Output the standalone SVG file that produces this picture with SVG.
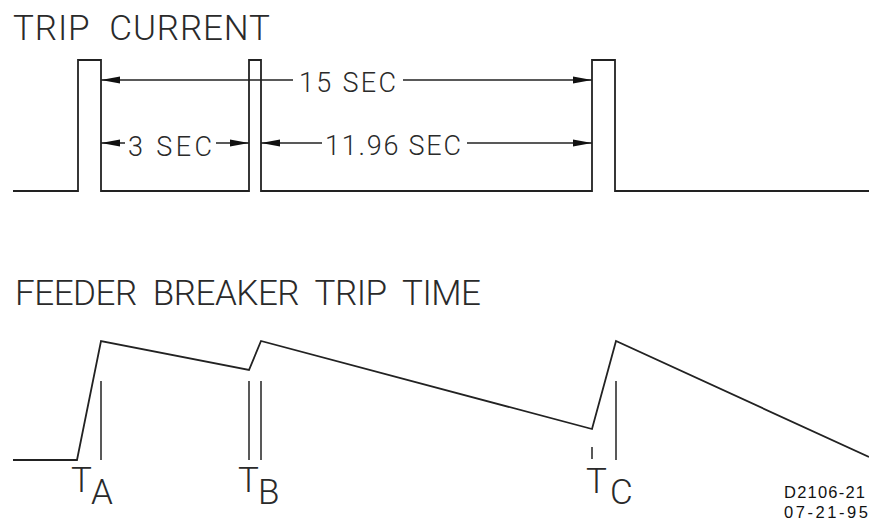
<svg xmlns="http://www.w3.org/2000/svg" width="869" height="519" viewBox="0 0 869 519">
<style>
.w{fill:none;stroke:#222;stroke-width:1.8;stroke-linejoin:miter}
.d{fill:none;stroke:#222;stroke-width:1.5}
.t{font-family:Roboto,"Liberation Sans",Arial,sans-serif;font-weight:300;fill:#2a2a2a;white-space:pre}
.big{font-size:35px}
.mid{font-size:27px}
.sm{font-size:16.5px;fill:#111;font-family:"Liberation Sans",Arial,sans-serif;font-weight:normal}
</style>
<defs>
<marker id="ah" viewBox="-20 -5 21 10" refX="0" refY="0" markerWidth="21" markerHeight="10" markerUnits="userSpaceOnUse" orient="auto">
<path d="M0,0 L-19,-3.6 L-19,3.6 z" fill="#111"/>
</marker>
</defs>
<rect width="869" height="519" fill="#fff"/>
<g id="titles">
<text class="t big" x="13" y="40" textLength="257" lengthAdjust="spacing" xml:space="preserve">TRIP  CURRENT</text>
<text class="t big" x="15" y="305" textLength="466" lengthAdjust="spacing" xml:space="preserve">FEEDER  BREAKER  TRIP  TIME</text>
</g>
<g id="trip-current">
<polyline class="w" points="13,191 78,191 78,60 101,60 101,191 249,191 249,60 261,60 261,191 592,191 592,60 615,60 615,191 869,191"/>
</g>
<g id="dimensions">
<line class="d" x1="293" y1="80" x2="101" y2="80" marker-end="url(#ah)"/>
<line class="d" x1="403" y1="80" x2="592" y2="80" marker-end="url(#ah)"/>
<line class="d" x1="125" y1="143" x2="101" y2="143" marker-end="url(#ah)"/>
<line class="d" x1="216" y1="143" x2="249" y2="143" marker-end="url(#ah)"/>
<line class="d" x1="322" y1="143" x2="261" y2="143" marker-end="url(#ah)"/>
<line class="d" x1="467" y1="143" x2="592" y2="143" marker-end="url(#ah)"/>
<text class="t mid" x="299" y="92" textLength="97" lengthAdjust="spacing" xml:space="preserve">15 SEC</text>
<text class="t mid" x="128" y="156" textLength="84" lengthAdjust="spacing" xml:space="preserve">3 SEC</text>
<text class="t mid" x="325" y="155" textLength="136" lengthAdjust="spacing" xml:space="preserve">11.96 SEC</text>
</g>
<g id="trip-time">
<polyline class="w" points="13,460 77,460 101,341 249,370 261,341 592,429 616,341 869,457"/>
</g>
<g id="markers">
<line class="d" x1="101" y1="381" x2="101" y2="460"/>
<line class="d" x1="249" y1="381" x2="249" y2="460"/>
<line class="d" x1="261" y1="381" x2="261" y2="460"/>
<line class="d" x1="592" y1="447" x2="592" y2="459"/>
<line class="d" x1="616" y1="381" x2="616" y2="460"/>
</g>
<g id="time-labels">
<text class="t big" x="71" y="492">T</text>
<text class="t big" x="91" y="504">A</text>
<text class="t big" x="238" y="492">T</text>
<text class="t big" x="258" y="504">B</text>
<text class="t big" x="586" y="493">T</text>
<text class="t big" x="610" y="504">C</text>
</g>
<g id="drawing-id">
<text class="t sm" x="784" y="498" textLength="81" lengthAdjust="spacing">D2106-21</text>
<text class="t sm" x="784" y="518" textLength="84" lengthAdjust="spacing">07-21-95</text>
</g>
</svg>
